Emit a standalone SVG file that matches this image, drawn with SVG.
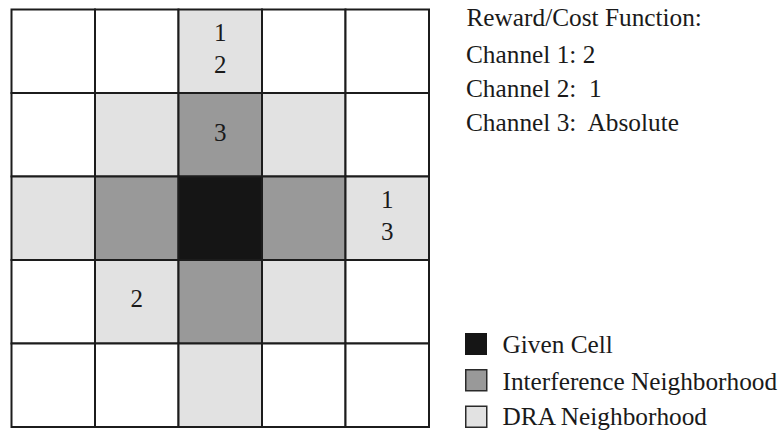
<svg xmlns="http://www.w3.org/2000/svg" width="782" height="430" viewBox="0 0 782 430">
<style>
.c{stroke:#1c1c1c;stroke-width:2}
.w{fill:#ffffff}
.l{fill:#e2e2e2}
.m{fill:#999999}
.b{fill:#151515}
.t{font-family:"Liberation Serif","Times New Roman",serif;font-size:25px;fill:#1a1a1a;white-space:pre}
.r{font-size:25.3px}
.d{text-anchor:middle}
.k{stroke:#2a2a2a;stroke-width:1.5}
</style>
<rect width="782" height="430" fill="#ffffff"/>
<g id="grid">
<g id="cell-0-0"><rect class="c w" x="11.5" y="9.5" width="83.5" height="83.5"/></g>
<g id="cell-0-1"><rect class="c w" x="95" y="9.5" width="83.5" height="83.5"/></g>
<g id="cell-0-2"><rect class="c l" x="178.5" y="9.5" width="83.5" height="83.5"/><text class="t d" x="220.3" y="41">1</text><text class="t d" x="220.3" y="72.5">2</text></g>
<g id="cell-0-3"><rect class="c w" x="262" y="9.5" width="83.5" height="83.5"/></g>
<g id="cell-0-4"><rect class="c w" x="345.5" y="9.5" width="83.5" height="83.5"/></g>

<g id="cell-1-0"><rect class="c w" x="11.5" y="93" width="83.5" height="83.5"/></g>
<g id="cell-1-1"><rect class="c l" x="95" y="93" width="83.5" height="83.5"/></g>
<g id="cell-1-2"><rect class="c m" x="178.5" y="93" width="83.5" height="83.5"/><text class="t d" x="220.3" y="140.5">3</text></g>
<g id="cell-1-3"><rect class="c l" x="262" y="93" width="83.5" height="83.5"/></g>
<g id="cell-1-4"><rect class="c w" x="345.5" y="93" width="83.5" height="83.5"/></g>

<g id="cell-2-0"><rect class="c l" x="11.5" y="176.5" width="83.5" height="83.5"/></g>
<g id="cell-2-1"><rect class="c m" x="95" y="176.5" width="83.5" height="83.5"/></g>
<g id="cell-2-2"><rect class="c b" x="178.5" y="176.5" width="83.5" height="83.5"/></g>
<g id="cell-2-3"><rect class="c m" x="262" y="176.5" width="83.5" height="83.5"/></g>
<g id="cell-2-4"><rect class="c l" x="345.5" y="176.5" width="83.5" height="83.5"/><text class="t d" x="387.2" y="208">1</text><text class="t d" x="387.2" y="240">3</text></g>

<g id="cell-3-0"><rect class="c w" x="11.5" y="260" width="83.5" height="83.5"/></g>
<g id="cell-3-1"><rect class="c l" x="95" y="260" width="83.5" height="83.5"/><text class="t d" x="136.8" y="307">2</text></g>
<g id="cell-3-2"><rect class="c m" x="178.5" y="260" width="83.5" height="83.5"/></g>
<g id="cell-3-3"><rect class="c l" x="262" y="260" width="83.5" height="83.5"/></g>
<g id="cell-3-4"><rect class="c w" x="345.5" y="260" width="83.5" height="83.5"/></g>

<g id="cell-4-0"><rect class="c w" x="11.5" y="343.5" width="83.5" height="83.5"/></g>
<g id="cell-4-1"><rect class="c w" x="95" y="343.5" width="83.5" height="83.5"/></g>
<g id="cell-4-2"><rect class="c l" x="178.5" y="343.5" width="83.5" height="83.5"/></g>
<g id="cell-4-3"><rect class="c w" x="262" y="343.5" width="83.5" height="83.5"/></g>
<g id="cell-4-4"><rect class="c w" x="345.5" y="343.5" width="83.5" height="83.5"/></g>
</g>
<g id="reward-cost">
<text class="t r" x="466.5" y="26">Reward/Cost Function:</text>
<text class="t r" x="466" y="63">Channel 1: 2</text>
<text class="t r" x="466" y="97">Channel 2:  1</text>
<text class="t r" x="466" y="131">Channel 3:  Absolute</text>
</g>
<g id="legend">
<g id="legend-given"><rect class="b" x="465" y="333" width="22" height="22"/><text class="t r" x="502.5" y="353">Given Cell</text></g>
<g id="legend-interference"><rect class="m k" x="465.75" y="369.75" width="21" height="21"/><text class="t r" x="502.5" y="389.5">Interference Neighborhood</text></g>
<g id="legend-dra"><rect class="l k" x="465.75" y="406.25" width="21" height="21"/><text class="t r" x="502.5" y="424.5">DRA Neighborhood</text></g>
</g>
</svg>
